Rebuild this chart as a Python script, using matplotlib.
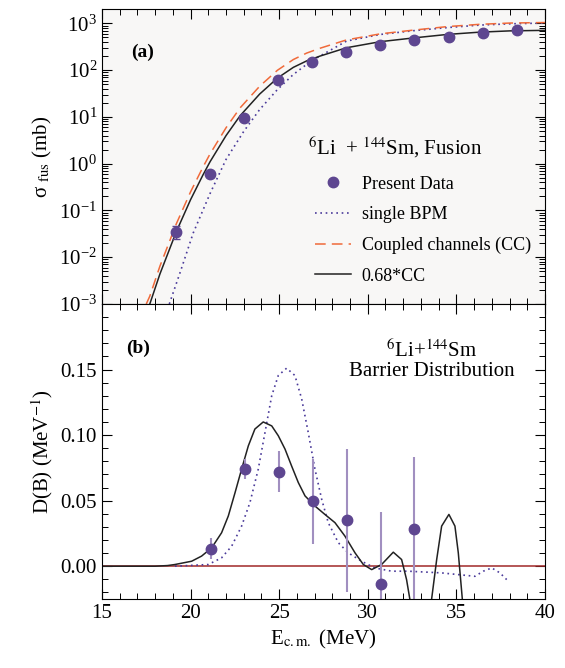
import numpy as np
import matplotlib
matplotlib.use('Agg')
import matplotlib.pyplot as plt
from matplotlib.ticker import MultipleLocator, LogLocator, NullFormatter

plt.rcParams['font.family'] = ['Liberation Serif', 'DejaVu Serif']
plt.rcParams['mathtext.fontset'] = 'stix'

# ---- panel (a): fusion cross section ----
e_data = [19.2, 21.1, 23.0, 24.95, 26.87, 28.8, 30.7, 32.6, 34.6, 36.5, 38.45]
sig_data = [0.035, 0.60, 9.3, 61, 148, 243, 343, 440, 520, 630, 715]
sig_err = [0.011, 0.08, 0.8, 4, 8, 12, 15, 18, 20, 22, 25]

e_cc = [17.5, 17.7, 18.27, 19.2, 20.0, 20.7, 21.1, 22.0, 22.8, 23.9, 24.9,
        25.8, 26.55, 27.3, 28.8, 30.7, 32.6, 34.5, 36.3, 38.0, 40.0]
sig_cc = [0.001, 0.00147, 0.00643, 0.0522, 0.25, 0.846, 1.62, 5.85, 15.7, 45.4, 99.4,
          169, 232, 294, 444, 598, 721, 856, 956, 1018, 1046]
cc_scale = 0.68

e_bpm = [18.8, 19.4, 20.15, 21.1, 22.0, 23.0, 23.9, 24.9, 25.8, 26.55, 27.3,
         28.8, 30.7, 32.6, 34.5, 36.3, 38.0, 40.0]
sig_bpm = [0.001, 0.0046, 0.033, 0.23, 1.23, 4.9, 14.4, 38.5, 81, 133, 200,
           419, 580, 700, 815, 920, 980, 1020]

# ---- panel (b): barrier distribution ----
e_db = [21.13, 23.07, 24.97, 26.89, 28.81, 30.73, 32.62]
db = [0.0133, 0.074, 0.0722, 0.0495, 0.0352, -0.0132, 0.0286]
db_err = [0.008, 0.0075, 0.0155, 0.0325, 0.0545, 0.0545, 0.055]

e_db_cc = [15.0, 18.0, 18.7, 19.12, 20.06, 20.62, 21.19, 21.75, 22.13, 22.51, 22.88,
           23.26, 23.63, 24.1, 24.58, 24.95, 25.33, 25.7, 26.08, 26.46, 27.02,
           27.58, 28.15, 28.71, 29.28, 29.75, 30.22, 30.78, 31.44, 31.91, 32.19,
           32.38, 33.0, 33.6, 33.89, 34.17, 34.58, 34.92, 35.11, 35.34]
db_cc = [0.0, 0.0, 0.0005, 0.0013, 0.0038, 0.0077, 0.014, 0.0255, 0.0383, 0.0561, 0.074,
         0.0918, 0.1046, 0.110, 0.107, 0.0995, 0.0893, 0.0765, 0.0638, 0.0536, 0.0459,
         0.0395, 0.0332, 0.023, 0.0102, 0.0013, -0.0026, 0.0013, 0.0107, 0.0051, -0.0102,
         -0.0255, -0.06, -0.0255, 0.0051, 0.0306, 0.0395, 0.0306, 0.0102, -0.0255]

e_db_bpm = [19.12, 21.0, 21.75, 22.32, 22.88, 23.35, 23.82, 24.2, 24.58, 24.95, 25.42,
            25.89, 26.27, 26.64, 27.02, 27.4, 27.77, 28.34, 28.9, 29.65, 30.4,
            31.35, 32.29, 34.17, 36.05, 36.52, 37.0, 37.46, 37.84]
db_bpm = [0.0, 0.0013, 0.0064, 0.0153, 0.0306, 0.0485, 0.074, 0.102, 0.130, 0.1454, 0.151,
          0.1454, 0.1276, 0.102, 0.074, 0.051, 0.0332, 0.0179, 0.0102, 0.0038, -0.0013,
          -0.0038, -0.0038, -0.0051, -0.0077, -0.0038, -0.0013, -0.0051, -0.0102]

pt_color = '#5e4690'
bpm_color = '#4a3a9a'
cc_color = '#f06a3a'
err_color = '#a18fc0'

fig = plt.figure(figsize=(5.65, 6.68), dpi=100)
ax1 = fig.add_axes([0.1805, 0.545, 0.784, 0.441])
ax2 = fig.add_axes([0.1805, 0.1033, 0.784, 0.4417])

# panel (a)
ax1.set_facecolor('#f8f7f6')
ax1.set_yscale('log')
ax1.errorbar(e_data, sig_data, yerr=sig_err, fmt='none', ecolor=pt_color,
             capsize=3, elinewidth=1, zorder=4)
h_data, = ax1.plot(e_data, sig_data, 'o', color=pt_color, ms=7.5, zorder=5)
h_bpm, = ax1.plot(e_bpm, sig_bpm, color=bpm_color, lw=1.2, dashes=(1, 2.2))
h_cc, = ax1.plot(e_cc, sig_cc, color=cc_color, lw=1.1, dashes=(7, 4))
h_fit, = ax1.plot(e_cc, np.array(sig_cc) * cc_scale, color='#222222', lw=1.1)
ax1.set_xlim(15, 40)
ax1.set_ylim(1e-3, 2000)
ax1.set_ylabel('σ $_{\\rm fus}$ (mb)', fontsize=15)
ax1.yaxis.set_major_locator(LogLocator(base=10, numticks=12))
ax1.yaxis.set_minor_locator(LogLocator(base=10, subs=np.arange(2, 10), numticks=12))
ax1.yaxis.set_minor_formatter(NullFormatter())
ax1.tick_params(labelbottom=False)
ax1.text(0.065, 0.84, '(a)', transform=ax1.transAxes, fontsize=14, fontweight='bold')
ax1.text(0.465, 0.533, r'$^{6}$Li  + $^{144}$Sm, Fusion', transform=ax1.transAxes,
         fontsize=15, va='center')
ax1.legend([h_data, h_bpm, h_cc, h_fit],
           ['Present Data', 'single BPM', 'Coupled channels (CC)', '0.68*CC'],
           loc='upper left', bbox_to_anchor=(0.48, 0.435), frameon=False, fontsize=13,
           handlelength=2.0, handletextpad=0.6, labelspacing=0.75, borderaxespad=0,
           borderpad=0)

# panel (b)
ax2.axhline(0, color='#a02828', lw=1.1)
ax2.plot(e_db_bpm, db_bpm, color=bpm_color, lw=1.2, dashes=(1, 2.2))
ax2.plot(e_db_cc, db_cc, color='#222222', lw=1.1)
ax2.errorbar(e_db, db, yerr=db_err, fmt='none', ecolor=err_color, elinewidth=1.5)
ax2.plot(e_db, db, 'o', color=pt_color, ms=7.5, zorder=5)
ax2.set_xlim(15, 40)
ax2.set_ylim(-0.025, 0.2)
ax2.set_yticks([0.0, 0.05, 0.10, 0.15])
ax2.set_yticklabels(['0.00', '0.05', '0.10', '0.15'])
ax2.yaxis.set_minor_locator(MultipleLocator(0.01))
ax2.set_ylabel(r'D(B) (MeV$^{-1}$)', fontsize=15)
ax2.set_xlabel(r'E$_{\rm c.m.}$ (MeV)', fontsize=15)
ax2.text(0.055, 0.835, '(b)', transform=ax2.transAxes, fontsize=14, fontweight='bold')
ax2.text(0.745, 0.808, r'$^{6}$Li+$^{144}$Sm' + '\nBarrier Distribution',
         transform=ax2.transAxes, fontsize=15, ha='center', va='center',
         linespacing=1.0)

for ax in (ax1, ax2):
    ax.xaxis.set_major_locator(MultipleLocator(5))
    ax.xaxis.set_minor_locator(MultipleLocator(1))
    ax.tick_params(which='both', direction='in', top=True, right=True, labelsize=15)
    ax.tick_params(which='major', length=7, width=0.8)
    ax.tick_params(which='minor', length=4, width=0.7)
    for s in ax.spines.values():
        s.set_linewidth(0.8)

fig.savefig('out.png', dpi=100)
